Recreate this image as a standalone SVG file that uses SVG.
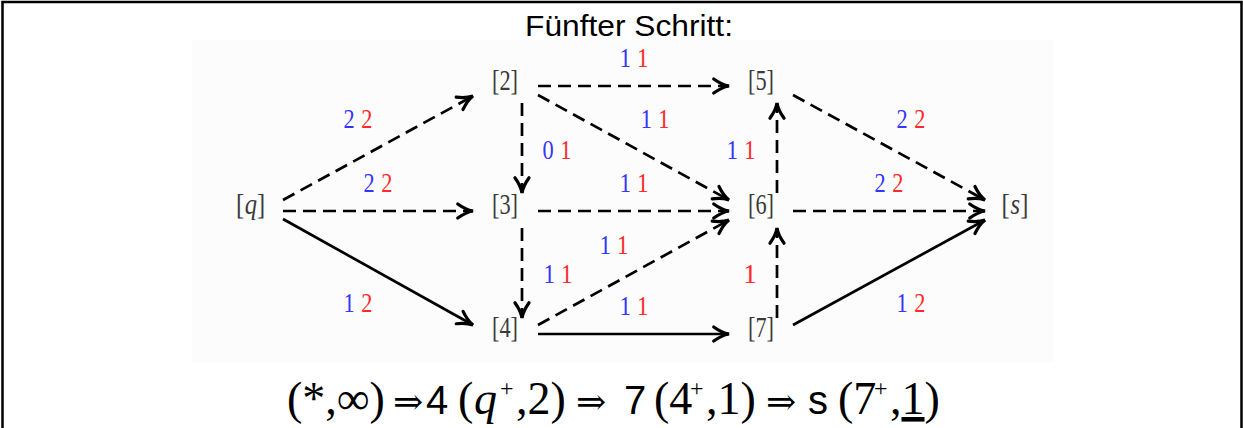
<svg xmlns="http://www.w3.org/2000/svg" width="1243" height="428" viewBox="0 0 1243 428">
<style>
.node{font-family:"Liberation Serif","DejaVu Serif",serif;font-size:30px;fill:#3a3a3a;text-anchor:middle}
.nl{font-family:"Liberation Serif","DejaVu Serif",serif;font-size:30px;fill:#3a3a3a}
.lbl{font-family:"Liberation Serif","DejaVu Serif",serif;font-size:27px;text-anchor:middle}
.b{fill:#3535ff}
.r{fill:#ff2a2a}
.e{stroke:#000;stroke-width:2.7;fill:none;marker-end:url(#ah)}
.d{stroke-dasharray:13 7}
.f{font-family:"Liberation Serif","Times New Roman",serif;font-size:46px;fill:#000}
.arr{font-family:"DejaVu Serif","DejaVu Sans",serif;font-size:36px;fill:#000}
.sup{font-family:"Liberation Serif","Times New Roman",serif;font-size:24px;fill:#000}
.fs{font-family:"Liberation Sans",Arial,sans-serif;font-size:40px;fill:#000}
</style>
<defs>
<marker id="ah" markerUnits="userSpaceOnUse" markerWidth="20" markerHeight="20" refX="0" refY="0" viewBox="-15 -8 17 16" orient="auto" overflow="visible">
<path d="M-13,-6 Q-6,-1 0,0 Q-6,1 -13,6" stroke="#000" stroke-width="2.7" fill="none" stroke-dasharray="none" stroke-linecap="round"/>
</marker>
</defs>
<rect x="0" y="0" width="1243" height="428" fill="#fff"/>
<rect x="192" y="40" width="862" height="322" fill="#fcfcfc"/>
<path d="M2.5,428 V2 H1241.5 V428" stroke="#000" stroke-width="2.5" fill="none"/>
<text x="629" y="36" font-family="Liberation Sans,Arial,sans-serif" font-size="29" textLength="208" lengthAdjust="spacingAndGlyphs" text-anchor="middle">Fünfter Schritt:</text>

<g id="connectors">
<line class="e d" x1="283" y1="200" x2="473" y2="96"/>
<line class="e d" x1="283" y1="211" x2="473" y2="211"/>
<line class="e" x1="283" y1="219" x2="473" y2="325"/>
<line class="e d" x1="538" y1="86" x2="729" y2="86"/>
<line class="e d" x1="538" y1="95" x2="729" y2="200"/>
<line class="e d" x1="522" y1="103" x2="522" y2="193"/>
<line class="e d" x1="538" y1="211" x2="729" y2="211"/>
<line class="e d" x1="522" y1="228" x2="522" y2="318"/>
<line class="e d" x1="538" y1="325" x2="729" y2="220"/>
<line class="e" x1="538" y1="334" x2="729" y2="334"/>
<line class="e d" x1="777" y1="193" x2="777" y2="103"/>
<line class="e d" x1="777" y1="318" x2="777" y2="228"/>
<line class="e d" x1="793" y1="95" x2="985" y2="200"/>
<line class="e d" x1="793" y1="211" x2="985" y2="211"/>
<line class="e" x1="793" y1="325" x2="985" y2="220"/>
</g>

<g id="edge-labels">
<text class="lbl" x="358" y="128" textLength="29" lengthAdjust="spacingAndGlyphs"><tspan class="b">2</tspan><tspan class="r" dx="8">2</tspan></text>
<text class="lbl" x="378" y="192" textLength="29" lengthAdjust="spacingAndGlyphs"><tspan class="b">2</tspan><tspan class="r" dx="8">2</tspan></text>
<text class="lbl" x="358" y="312" textLength="29" lengthAdjust="spacingAndGlyphs"><tspan class="b">1</tspan><tspan class="r" dx="8">2</tspan></text>
<text class="lbl" x="634" y="67" textLength="29" lengthAdjust="spacingAndGlyphs"><tspan class="b">1</tspan><tspan class="r" dx="8">1</tspan></text>
<text class="lbl" x="655" y="128" textLength="29" lengthAdjust="spacingAndGlyphs"><tspan class="b">1</tspan><tspan class="r" dx="8">1</tspan></text>
<text class="lbl" x="557" y="159" textLength="29" lengthAdjust="spacingAndGlyphs"><tspan class="b">0</tspan><tspan class="r" dx="8">1</tspan></text>
<text class="lbl" x="741" y="159" textLength="29" lengthAdjust="spacingAndGlyphs"><tspan class="b">1</tspan><tspan class="r" dx="8">1</tspan></text>
<text class="lbl" x="634" y="192" textLength="29" lengthAdjust="spacingAndGlyphs"><tspan class="b">1</tspan><tspan class="r" dx="8">1</tspan></text>
<text class="lbl" x="614" y="254" textLength="29" lengthAdjust="spacingAndGlyphs"><tspan class="b">1</tspan><tspan class="r" dx="8">1</tspan></text>
<text class="lbl" x="558" y="283" textLength="29" lengthAdjust="spacingAndGlyphs"><tspan class="b">1</tspan><tspan class="r" dx="8">1</tspan></text>
<text class="lbl" x="634" y="315" textLength="29" lengthAdjust="spacingAndGlyphs"><tspan class="b">1</tspan><tspan class="r" dx="8">1</tspan></text>
<text class="lbl r" x="750" y="283">1</text>
<text class="lbl" x="911" y="128" textLength="29" lengthAdjust="spacingAndGlyphs"><tspan class="b">2</tspan><tspan class="r" dx="8">2</tspan></text>
<text class="lbl" x="889" y="192" textLength="29" lengthAdjust="spacingAndGlyphs"><tspan class="b">2</tspan><tspan class="r" dx="8">2</tspan></text>
<text class="lbl" x="911" y="312" textLength="29" lengthAdjust="spacingAndGlyphs"><tspan class="b">1</tspan><tspan class="r" dx="8">2</tspan></text>
</g>

<g id="node-q" transform="translate(250,214) scale(0.82,1)"><text class="nl" x="-17" y="0">[</text><text class="nl" x="-6.5" y="0" font-style="italic">q</text><text class="nl" x="8.5" y="0">]</text></g>
<g id="node-2"><text class="node" x="505" y="90" textLength="26" lengthAdjust="spacingAndGlyphs">[2]</text></g>
<g id="node-3"><text class="node" x="505" y="214" textLength="26" lengthAdjust="spacingAndGlyphs">[3]</text></g>
<g id="node-4"><text class="node" x="505" y="337" textLength="26" lengthAdjust="spacingAndGlyphs">[4]</text></g>
<g id="node-5"><text class="node" x="761" y="90" textLength="26" lengthAdjust="spacingAndGlyphs">[5]</text></g>
<g id="node-6"><text class="node" x="761" y="214" textLength="26" lengthAdjust="spacingAndGlyphs">[6]</text></g>
<g id="node-7"><text class="node" x="761" y="337" textLength="26" lengthAdjust="spacingAndGlyphs">[7]</text></g>
<g id="node-s" transform="translate(1015,214) scale(0.82,1)"><text class="nl" x="-16.5" y="0">[</text><text class="nl" x="-5.5" y="0" font-style="italic">s</text><text class="nl" x="6.5" y="0">]</text></g>

<g id="formula">
<text class="f" x="287" y="414">(*,∞)</text>
<text class="arr" x="393" y="414" font-size="22">⇒</text>
<text class="fs" x="426" y="414">4</text>
<text class="f" x="458" y="414">(</text>
<text class="f" x="474" y="414" font-style="italic">q</text>
<text class="sup" x="500" y="396">+</text>
<text class="f" x="516" y="414">,2)</text>
<text class="arr" x="576" y="414">⇒</text>
<text class="fs" x="624" y="414">7</text>
<text class="f" x="654" y="414">(4</text>
<text class="sup" x="690" y="396">+</text>
<text class="f" x="706" y="414">,1)</text>
<text class="arr" x="766" y="414">⇒</text>
<text class="fs" x="808" y="414">s</text>
<text class="f" x="838" y="414">(7</text>
<text class="sup" x="874" y="396">+</text>
<text class="f" x="890" y="414">,<tspan text-decoration="underline">1</tspan>)</text>
</g>
</svg>
